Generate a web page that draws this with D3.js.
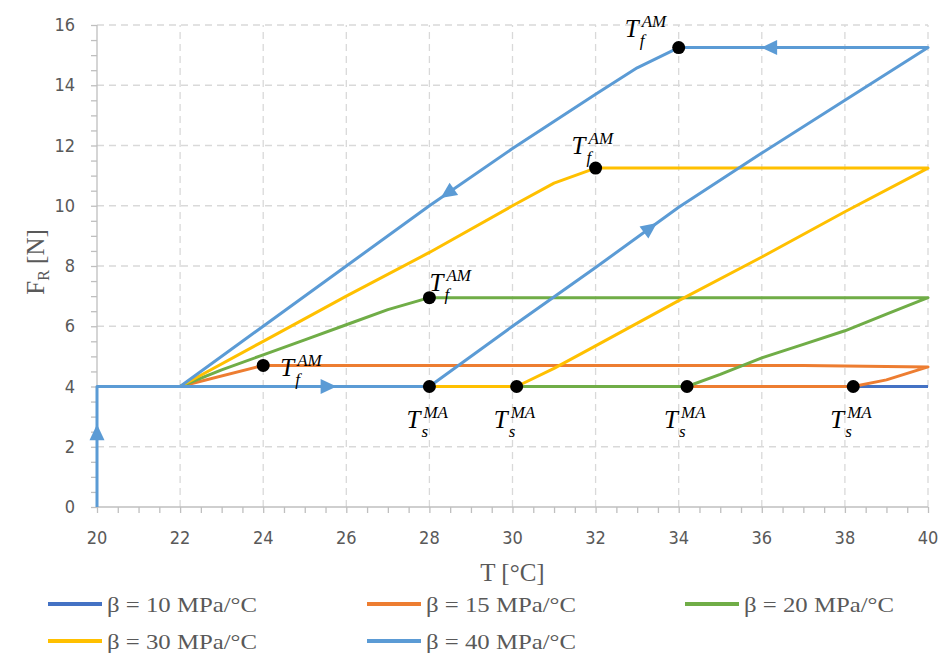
<!DOCTYPE html>
<html><head><meta charset="utf-8">
<script src="https://cdn.jsdelivr.net/npm/d3@7"></script>
<style>body{margin:0;background:#fff}svg{display:block}</style>
</head><body><svg id="c" width="940" height="653"></svg>
<script>
// ---------- data ----------
const seriesNames = ["β = 10 MPa/°C","β = 15 MPa/°C","β = 20 MPa/°C","β = 30 MPa/°C","β = 40 MPa/°C"];
const seriesColors = ["#4472C4","#ED7D31","#70AD47","#FFC000","#5B9BD5"];
const beta10 = [[20,4],[40,4]];
const beta15 = [[20,4],[38.2,4],[39,4.22],[40,4.65],[37,4.7],[24,4.7],[22,4]];
const beta20 = [[20,4],[34.2,4],[35,4.4],[36,4.95],[37,5.4],[38,5.85],[39,6.4],[40,6.95],[28,6.95],[27,6.55],[26,6.05],[25,5.55],[24,5.05],[23,4.55],[22,4]];
const beta30 = [[20,4],[30.1,4],[31,4.6],[32,5.35],[34,6.85],[36,8.3],[38,9.8],[40,11.25],[32,11.25],[31,10.75],[30,10],[28,8.45],[26,7],[24,5.5],[22,4]];
const beta40 = [[20,0],[20,4],[28,4],[30,6],[32,7.95],[34,9.95],[36,11.75],[38,13.5],[40,15.25],[34,15.25],[33,14.58],[32,13.7],[30,11.9],[28,10],[26,8],[24,6],[22,4]];
const seriesData = [beta10,beta15,beta20,beta30,beta40];
// arrow markers on beta=40 path: position and a point it heads toward
const arrows = [[20,2.45,20,4],[25.55,4,28,4],[33.3,9.25,34,9.95],[36.2,15.25,34,15.25],[28.45,10.43,28,10]];
// transition points
const pointsAM = [[24,4.7],[28,6.95],[32,11.25],[34,15.25]];
const pointsMA = [[28,4],[30.1,4],[34.2,4],[38.2,4]];
const xTicks = [20,22,24,26,28,30,32,34,36,38,40];
const yTicks = [0,2,4,6,8,10,12,14,16];

// ---------- layout ----------
const svg = d3.select("#c");
const x = d3.scaleLinear().domain([20,40]).range([97,928]);
const y = d3.scaleLinear().domain([0,16]).range([507,25]);
const gridC = "#d9d9d9", axisC = "#bfbfbf", textC = "#595959";
const tickFont = "'Liberation Sans Narrow','DejaVu Sans Condensed',sans-serif";
const serif = "'Liberation Serif','DejaVu Serif',serif";

// grid
svg.append("g").selectAll("line").data(yTicks.filter(d=>d>0)).join("line")
  .attr("x1",x(20)).attr("x2",x(40)).attr("y1",d=>y(d)).attr("y2",d=>y(d))
  .attr("stroke",gridC).attr("stroke-width",1.3).attr("stroke-dasharray","7,5");
svg.append("g").selectAll("line").data(xTicks.filter(d=>d>20)).join("line")
  .attr("y1",y(0)).attr("y2",y(16)).attr("x1",d=>x(d)).attr("x2",d=>x(d))
  .attr("stroke",gridC).attr("stroke-width",1.3).attr("stroke-dasharray","7,5");

// axes
const xAxis = svg.append("g").attr("transform",`translate(0,${y(0)})`)
  .call(d3.axisBottom(x).tickValues(d3.range(20,40.01,0.5)).tickSize(6).tickFormat(""));
const yAxis = svg.append("g").attr("transform",`translate(${x(20)},0)`)
  .call(d3.axisLeft(y).tickValues(d3.range(0,16.01,0.5)).tickSize(6).tickFormat(""));
[xAxis,yAxis].forEach(g=>{g.selectAll("path,line").attr("stroke",axisC).attr("stroke-width",1.3);});
xAxis.select(".domain").attr("d",`M${x(20)},0H${x(40)}`);
yAxis.select(".domain").attr("d",`M0,${y(0)}V${y(16)}`);
svg.append("g").selectAll("text").data(xTicks).join("text")
  .attr("x",d=>x(d)).attr("y",y(0)+37).attr("text-anchor","middle")
  .attr("font-family",tickFont).attr("font-size",18).attr("fill",textC).text(d=>d);
svg.append("g").selectAll("text").data(yTicks).join("text")
  .attr("x",x(20)-22).attr("y",d=>y(d)+6).attr("text-anchor","end")
  .attr("font-family",tickFont).attr("font-size",18).attr("fill",textC).text(d=>d);

// axis titles
svg.append("text").attr("x",(x(20)+x(40))/2).attr("y",581).attr("text-anchor","middle")
  .attr("font-family",serif).attr("font-size",25).attr("fill",textC).text("T [°C]");
const yt = svg.append("text").attr("transform","translate(44,262) rotate(-90)").attr("text-anchor","middle")
  .attr("font-family",serif).attr("font-size",25).attr("fill",textC);
yt.append("tspan").text("F");
yt.append("tspan").attr("font-size",16).attr("dy",5).text("R");
yt.append("tspan").attr("dy",-5).text(" [N]");

// series
const line = d3.line().x(d=>x(d[0])).y(d=>y(d[1]));
svg.append("g").selectAll("path").data(seriesData).join("path")
  .attr("d",line).attr("fill","none").attr("stroke",(d,i)=>seriesColors[i])
  .attr("stroke-width",3).attr("stroke-linejoin","round");

// arrows
svg.append("g").selectAll("path").data(arrows).join("path")
  .attr("d","M9,0L-7,-7.5L-7,7.5Z").attr("fill",seriesColors[4])
  .attr("transform",d=>{
    const px=x(d[0]),py=y(d[1]);
    const a=Math.atan2(y(d[3])-py,x(d[2])-px)*180/Math.PI;
    return `translate(${px},${py}) rotate(${a})`;
  });

// points
svg.append("g").selectAll("circle").data(pointsAM.concat(pointsMA)).join("circle")
  .attr("cx",d=>x(d[0])).attr("cy",d=>y(d[1])).attr("r",6.5).attr("fill","#000");

// labels (offset from point in pixels)
const amOffsets = [[17,11],[0,-7],[-24,-14],[-54,-11]];
const maOffsets = [[-23,41],[-23,41],[-23,41],[-23,41]];
function label(px,py,sup,sub){
  const g=svg.append("g").attr("font-family",serif).attr("font-style","italic").attr("fill","#000");
  g.append("text").attr("x",px).attr("y",py).attr("font-size",25).text("T");
  g.append("text").attr("x",px+17).attr("y",py-10).attr("font-size",17).text(sup);
  g.append("text").attr("x",px+15).attr("y",py+9).attr("font-size",17).text(sub);
}
pointsAM.forEach((p,i)=>label(x(p[0])+amOffsets[i][0],y(p[1])+amOffsets[i][1],"AM","f"));
pointsMA.forEach((p,i)=>label(x(p[0])+maOffsets[i][0],y(p[1])+maOffsets[i][1],"MA","s"));

// legend
const legX = [48,367,685], legY = [604,641];
const lg = svg.append("g").selectAll("g").data(seriesNames).join("g")
  .attr("transform",(d,i)=>`translate(${legX[i%3]},${legY[Math.floor(i/3)]})`);
lg.append("line").attr("x1",0).attr("x2",54).attr("stroke",(d,i)=>seriesColors[i]).attr("stroke-width",4);
lg.append("text").attr("x",59).attr("y",8).attr("font-family",serif).attr("font-size",21)
  .attr("textLength",150).attr("lengthAdjust","spacingAndGlyphs")
  .attr("fill",textC).text(d=>d);
</script></body></html>
